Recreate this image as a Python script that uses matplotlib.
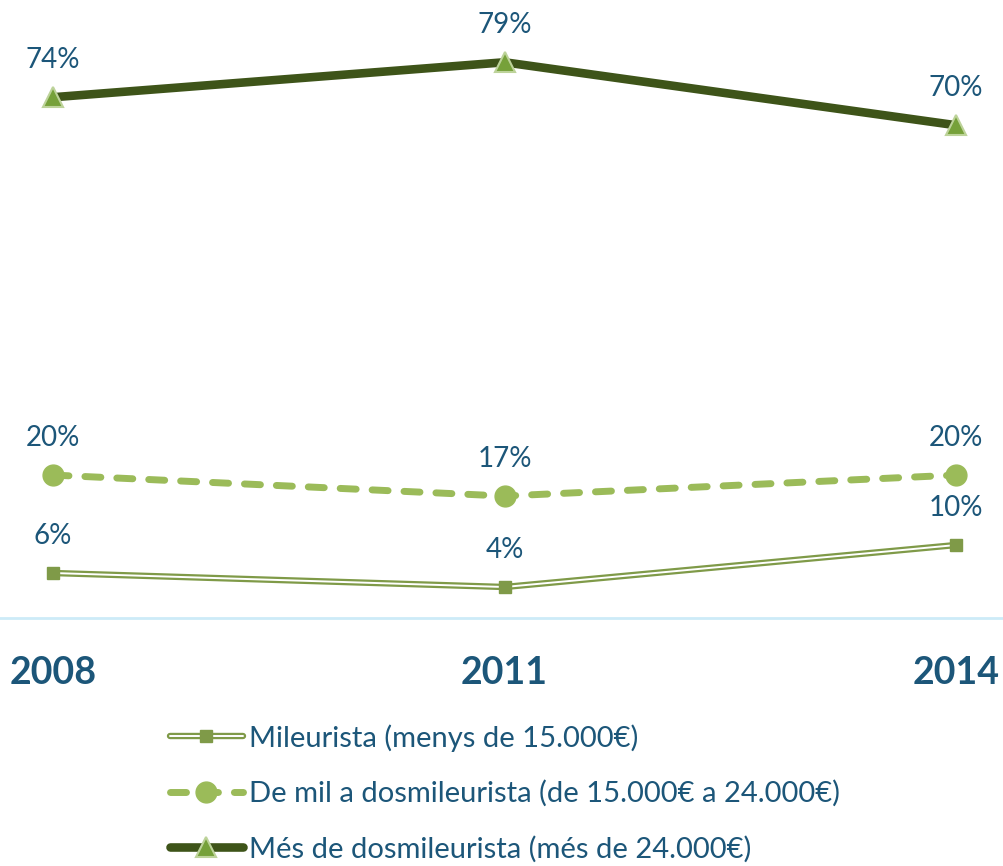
import matplotlib
matplotlib.use("Agg")
import matplotlib.pyplot as plt
import matplotlib.patheffects as pe
from matplotlib.lines import Line2D

plt.rcParams['font.family'] = ['Lato', 'DejaVu Sans']

years = ["2008", "2011", "2014"]
mileurista = [6, 4, 10]
dosmil = [20, 17, 20]
mes_dosmil = [74, 79, 70]
labels = ["Mileurista (menys de 15.000€)",
          "De mil a dosmileurista (de 15.000€ a 24.000€)",
          "Més de dosmileurista (més de 24.000€)"]

TEXT = '#1C5679'
C1, C2, C3 = '#7F9A48', '#9BBB59', '#3E5419'
W, H = 1004, 866
fig = plt.figure(figsize=(W / 100, H / 100), dpi=100)
ax = fig.add_axes([0, 1 - 618 / H, 1, 618 / H])

x = list(range(len(years)))

double = [pe.Stroke(linewidth=4.6, foreground=C1),
          pe.Stroke(linewidth=1.4, foreground='white')]
ax.plot(x, mileurista, color=C1, lw=4.6, zorder=3, path_effects=double)
ax.plot(x, mileurista, ls='none', marker='s', ms=9, mfc=C1, mec=C1, zorder=4)

ax.plot(x, dosmil, color=C2, lw=5, ls=(0, (2.3, 2.3)),
        dash_capstyle='round', marker='o', ms=15, mfc=C2, mec=C2, zorder=3)

ax.plot(x, mes_dosmil, color=C3, lw=6.2, solid_capstyle='round',
        marker='^', ms=15, mfc='#76A13A', mec='#BDD39A', mew=1.5, zorder=3)

for series in (mileurista, dosmil, mes_dosmil):
    for xi, v in zip(x, series):
        ax.annotate(f"{v}%", (xi, v), xytext=(0, 27), textcoords='offset points',
                    ha='center', va='center', fontsize=20, color=TEXT)

ax.set_xlim(-53 / 451.5, 2 + 48 / 451.5)
ax.set_ylim(-0.43, 87.9)
ax.set_xticks(x)
ax.set_xticklabels(years, fontsize=27, fontweight='bold', color=TEXT)
ax.tick_params(axis='x', length=0, pad=27)
ax.set_yticks([])
for s in ('top', 'left', 'right'):
    ax.spines[s].set_visible(False)
ax.spines['bottom'].set_color('#CDEBF8')
ax.spines['bottom'].set_linewidth(2)

# legend handles
h1a = Line2D([], [], color=C1, lw=4.6, solid_capstyle='round',
             path_effects=[pe.Stroke(linewidth=4.6, foreground=C1, capstyle='round'),
                           pe.Stroke(linewidth=1.4, foreground='white', capstyle='round')])
h1b = Line2D([], [], ls='none', marker='s', ms=9, mfc=C1, mec=C1)
h2 = Line2D([], [], color=C2, lw=5, ls=(0, (2.3, 2.3)), dash_capstyle='round',
            marker='o', ms=15, mfc=C2, mec=C2)
h3 = Line2D([], [], color=C3, lw=6.2, solid_capstyle='round', marker='^', ms=15,
            mfc='#76A13A', mec='#BDD39A', mew=1.5)
leg = fig.legend([(h1a, h1b), h2, h3], labels, loc='upper left',
                 bbox_to_anchor=(170 / W, 1 - 724 / H), frameon=False,
                 fontsize=21, handlelength=2.5, handletextpad=0.2,
                 labelspacing=0.98, borderpad=0, borderaxespad=0)
for t in leg.get_texts():
    t.set_color(TEXT)

fig.savefig('out.png', dpi=100)
